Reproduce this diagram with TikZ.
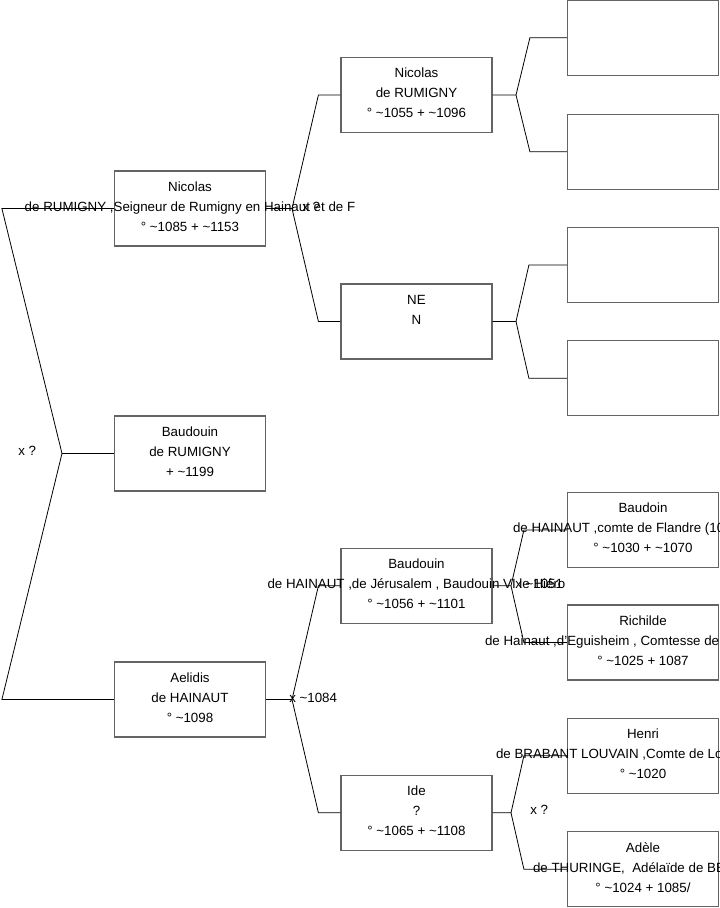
\documentclass[tikz,border=0pt]{standalone}
\usepackage{fontspec}
\setmainfont{Liberation Sans}
\usetikzlibrary{positioning,calc}
\definecolor{boxgray}{RGB}{100,100,100}
\newcommand{\wideline}[1]{\makebox[0pt]{#1}}
\newcommand{\cutline}[2]{\makebox[0pt]{\makebox[#1][l]{#2}}}
\tikzset{
    person/.style={rectangle, draw=boxgray, fill=white, line width=0.9pt, minimum width=113.25pt, minimum height=56.25pt, inner sep=0pt, align=center, font=\fontsize{10}{15}\selectfont, execute at end node={\rule[-3pt]{0pt}{3pt}}},
    link/.style={black, line width=0.6pt},
    unionlabel/.style={anchor=west, inner sep=0pt, font=\fontsize{10}{15}\selectfont},
}
\begin{document}
\begin{tikzpicture}[x=0.75pt,y=-0.75pt]
    \useasboundingbox (0,0) rectangle (719,908);

    % generation 1
    \node[person] (nic1) at (190,208.5) {Nicolas\\ \wideline{de RUMIGNY ,Seigneur de Rumigny en Hainaut et de F}\\ ° \textasciitilde 1085 + \textasciitilde 1153};
    \node[person] (bau1) at (190,453.5) {Baudouin\\ de RUMIGNY\\ + \textasciitilde 1199};
    \node[person] (aeli) at (190,699.5) {Aelidis\\ de HAINAUT\\ ° \textasciitilde 1098};

    % generation 2
    \node[person] (nic2) at (416.5,95) {Nicolas\\ de RUMIGNY\\ ° \textasciitilde 1055 + \textasciitilde 1096};
    \node[person] (nen) at (416.5,321.5) {NE\\ N\\ \mbox{}};
    \node[person] (bau2) at (416.5,585.8) {Baudouin\\ \wideline{de HAINAUT ,de Jérusalem , Baudouin VI le Hiéro}\\ ° \textasciitilde 1056 + \textasciitilde 1101};
    \node[person] (ide) at (416.5,812.8) {Ide\\ ?\\ ° \textasciitilde 1065 + \textasciitilde 1108};

    % generation 3
    \node[person] (e1) at (643,37.7) {};
    \node[person] (e2) at (643,151.7) {};
    \node[person] (e3) at (643,265) {};
    \node[person] (e4) at (643,378.3) {};
    \node[person] (bdn3) at (643,530) {Baudoin\\ \cutline{195pt}{de HAINAUT ,comte de Flandre (10}\\ ° \textasciitilde 1030 + \textasciitilde 1070};
    \node[person] (rich) at (643,642.5) {Richilde\\ \cutline{237pt}{de Hainaut ,d'Eguisheim , Comtesse de}\\ ° \textasciitilde 1025 + 1087};
    \node[person] (henri) at (643,755.8) {Henri\\ \cutline{220.5pt}{de BRABANT LOUVAIN ,Comte de Lo}\\ ° \textasciitilde 1020};
    \node[person] (adele) at (643,869.2) {Adèle\\ \cutline{165pt}{de THURINGE,\ \ Adélaïde de BE}\\ ° \textasciitilde 1024 + 1085/};

    % forks
    \coordinate (f0) at (62,453.5);
    \coordinate (f1) at (292,208.5);
    \coordinate (f2) at (292,699.5);
    \coordinate (f3) at (516,95);
    \coordinate (f4) at (516,321.5);
    \coordinate (f5) at (511,585.8);
    \coordinate (f6) at (511,812.8);

    \draw[link] (bau1.west) -- (f0) -- ($(nic1.west)+(-112,0)$) -- (nic1.west);
    \draw[link] (f0) -- ($(aeli.west)+(-112,0)$) -- (aeli.west);
    \draw[link] (nic1.east) -- (f1) -- ($(nic2.west)+(-22,0)$) -- (nic2.west);
    \draw[link] (f1) -- ($(nen.west)+(-22,0)$) -- (nen.west);
    \draw[link] (aeli.east) -- (f2) -- ($(bau2.west)+(-22,0)$) -- (bau2.west);
    \draw[link] (f2) -- ($(ide.west)+(-22,0)$) -- (ide.west);
    \draw[link] (nic2.east) -- (f3) -- ($(e1.west)+(-37,0)$) -- (e1.west);
    \draw[link] (f3) -- ($(e2.west)+(-37,0)$) -- (e2.west);
    \draw[link] (nen.east) -- (f4) -- ($(e3.west)+(-38,0)$) -- (e3.west);
    \draw[link] (f4) -- ($(e4.west)+(-38,0)$) -- (e4.west);
    \draw[link] (bau2.east) -- (f5) -- ($(bdn3.west)+(-43,0)$) -- (bdn3.west);
    \draw[link] (f5) -- ($(rich.west)+(-43,0)$) -- (rich.west);
    \draw[link] (ide.east) -- (f6) -- ($(henri.west)+(-43,0)$) -- (henri.west);
    \draw[link] (f6) -- ($(adele.west)+(-43,0)$) -- (adele.west);

    % unions
    \node[unionlabel] (u0) at (18,451) {x ?};
    \node[unionlabel] (u1) at (302,207) {x ?};
    \node[unionlabel] (u2) at (289,698) {x \textasciitilde 1084};
    \node[unionlabel] (u3) at (515,584) {x \textasciitilde 1051};
    \node[unionlabel] (u4) at (530,810) {x ?};
\end{tikzpicture}
\end{document}
